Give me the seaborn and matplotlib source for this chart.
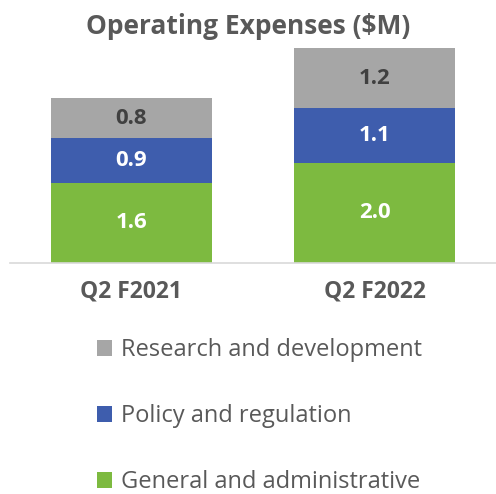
import matplotlib
matplotlib.use("Agg")
import matplotlib.pyplot as plt
from matplotlib.patches import Patch
import pandas as pd
import seaborn as sns

quarters = ["Q2 F2021", "Q2 F2022"]
general_admin = [1.6, 2.0]
policy_reg = [0.9, 1.1]
research_dev = [0.8, 1.2]

series_names = ["Research and development", "Policy and regulation", "General and administrative"]
colors = {"General and administrative": "#7DBA40",
          "Policy and regulation": "#3E5DAD",
          "Research and development": "#A6A6A6"}

sns.set_style("white")
plt.rcParams["font.family"] = ["Open Sans", "DejaVu Sans"]

df = pd.DataFrame({"quarter": quarters, "ga": general_admin,
                   "pr": policy_reg, "rd": research_dev})
df["ga_pr"] = df["ga"] + df["pr"]
df["total"] = df["ga_pr"] + df["rd"]

fig = plt.figure(figsize=(4.96, 4.94), dpi=100)
ax = fig.add_axes([10 / 496, 1 - 263 / 494, 486 / 496, (263 - 48) / 494])

# stacked bars drawn as overlapping cumulative bars
sns.barplot(data=df, x="quarter", y="total", color=colors["Research and development"],
            width=0.66, saturation=1, linewidth=0, ax=ax)
sns.barplot(data=df, x="quarter", y="ga_pr", color=colors["Policy and regulation"],
            width=0.66, saturation=1, linewidth=0, ax=ax)
sns.barplot(data=df, x="quarter", y="ga", color=colors["General and administrative"],
            width=0.66, saturation=1, linewidth=0, ax=ax)

ax.set_ylim(0, 4.3)
ax.set_xlim(-0.5, 1.5)
ax.set_xlabel("")
ax.set_ylabel("")
ax.set_yticks([])
sns.despine(ax=ax, left=True, top=True, right=True)
ax.spines["bottom"].set_color("#D9D9D9")
ax.spines["bottom"].set_linewidth(1.2)
ax.tick_params(axis="x", length=0, pad=12)
for lbl in ax.get_xticklabels():
    lbl.set_fontweight("bold")
    lbl.set_color("#595959")
    lbl.set_fontsize(16.5)

# segment labels
for i in range(len(quarters)):
    ax.text(i, df["ga"][i] / 2, f"{df['ga'][i]:.1f}", ha="center", va="center",
            color="white", fontsize=16, fontweight="bold")
    ax.text(i, df["ga"][i] + df["pr"][i] / 2, f"{df['pr'][i]:.1f}", ha="center", va="center",
            color="white", fontsize=16, fontweight="bold")
    ax.text(i, df["ga_pr"][i] + df["rd"][i] / 2, f"{df['rd'][i]:.1f}", ha="center", va="center",
            color="#404040", fontsize=16, fontweight="bold")

fig.text(0.5, 1 - 27 / 494, "Operating Expenses ($M)", ha="center", va="center",
         fontsize=19, fontweight="bold", color="#595959")

handles = [Patch(facecolor=colors[n], edgecolor="none", label=n) for n in series_names]
leg = fig.legend(handles=handles, loc="center left",
                 bbox_to_anchor=(97 / 496, 1 - 416 / 494), frameon=False,
                 borderpad=0, borderaxespad=0,
                 fontsize=17, labelcolor="#595959", handlelength=0.65,
                 handleheight=0.65, handletextpad=0.35, labelspacing=1.78)

fig.savefig("out.png", dpi=100)
